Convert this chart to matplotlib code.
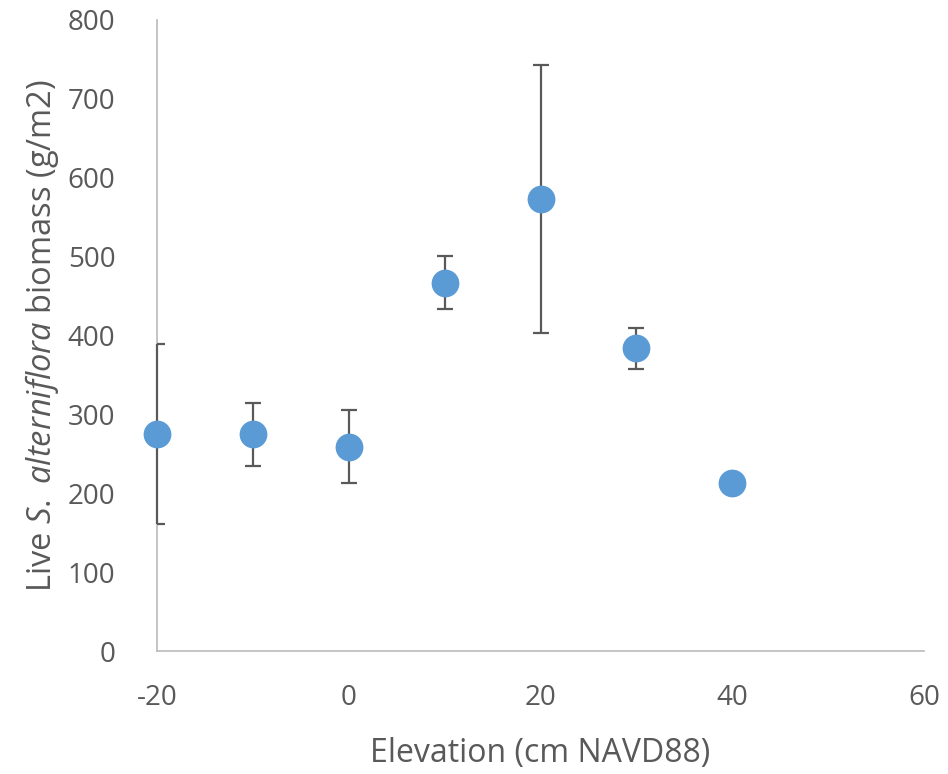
import matplotlib.pyplot as plt
from matplotlib.ticker import MultipleLocator

plt.rcParams['font.family'] = ['Open Sans', 'DejaVu Sans']
plt.rcParams['mathtext.fontset'] = 'custom'
plt.rcParams['mathtext.it'] = 'Open Sans:italic'
plt.rcParams['mathtext.rm'] = 'Open Sans'
plt.rcParams['axes.unicode_minus'] = False

elevation = [-20, -10, 0, 10, 20, 30, 40]
biomass = [275, 275, 259, 467, 573, 384, 213]
biomass_se = [114, 40, 46, 34, 170, 26, 0]

text_color = '#595959'

fig = plt.figure(figsize=(9.48, 7.74), dpi=100)
ax = fig.add_axes([0.1656, 0.1589, 0.8091, 0.8153])

# error bars above the spines, like the Excel original
eb = ax.errorbar(elevation, biomass, yerr=biomass_se, fmt='none', ecolor='#595959',
                 elinewidth=1.6, capsize=5.5, capthick=1.6, zorder=3)
for part in eb.lines[2]:
    part.set_clip_on(False)
ax.plot(elevation, biomass, 'o', color='#5b9bd5', markersize=20, markeredgewidth=0,
        zorder=4, clip_on=False)

ax.set_xlim(-20, 60)
ax.set_ylim(0, 800)
ax.xaxis.set_major_locator(MultipleLocator(20))
ax.yaxis.set_major_locator(MultipleLocator(100))

for side in ['top', 'right']:
    ax.spines[side].set_visible(False)
for side in ['left', 'bottom']:
    ax.spines[side].set_color('#bfbfbf')
    ax.spines[side].set_linewidth(1.3)

ax.tick_params(axis='both', length=0, labelsize=20, colors=text_color)
ax.tick_params(axis='y', pad=30)
ax.tick_params(axis='x', pad=24)

ax.set_xlabel('Elevation (cm NAVD88)', fontsize=23, color=text_color, labelpad=18)
ax.set_ylabel(r'Live $\mathit{S.\ alterniflora}$ biomass (g/m2)', fontsize=23.5,
              color=text_color, labelpad=5)

fig.savefig('out.png', dpi=100)
